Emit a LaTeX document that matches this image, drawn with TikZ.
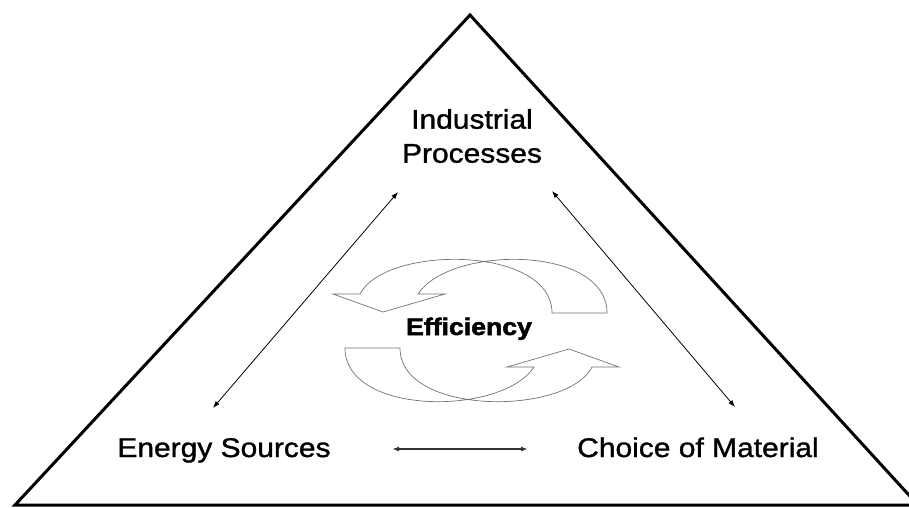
\documentclass[tikz,border=0pt]{standalone}
\usepackage{fontspec}
\setmainfont{Liberation Sans}[FakeStretch=1.11]
\newfontfamily\labelfont{Liberation Sans}[FakeStretch=1.11, FakeBold=1.2]
\newfontfamily\efffont{Liberation Sans Bold}[FakeStretch=1.11, FakeBold=2]
\usepackage{tikz}
\usetikzlibrary{arrows.meta}

\tikzset{
    label/.style={font=\labelfont\fontsize{27}{34}\selectfont, align=center, inner sep=2pt},
    link/.style={thick, {Latex[length=7pt, width=5pt]}-{Latex[length=7pt, width=5pt]}},
    cycle/.style={draw=black!55, line width=0.7pt, fill=white, line join=miter}
}

\begin{document}
\begin{tikzpicture}[x=1pt, y=-1pt]
            \useasboundingbox (0,0) rectangle (909,507);

            % outer triangle
            \draw[line width=3pt, line join=miter] (15,505) -- (470,15) -- (918,505) -- cycle;

            \node[label] (ip) at (472,136) {Industrial\\Processes};
            \node[label, anchor=base] (es) at (224,457) {Energy Sources};
            \node[label, anchor=base] (cm) at (698,457) {Choice of Material};

            % free ends of the links
            \coordinate (es-top) at (213,408);
            \coordinate (ip-left) at (398,192);
            \coordinate (ip-right) at (552,191);
            \coordinate (cm-top) at (735,407);
            \coordinate (es-right) at (392,449);
            \coordinate (cm-left) at (528,449);

            \draw[link] (es-top) -- (ip-left);
            \draw[link] (ip-right) -- (cm-top);
            \draw[link, line width=2pt, black!80] (es-right) -- (cm-left);

            % cycle arrows
            \draw[cycle] (552,313) -- (607,313) .. controls (607,245) and (450,245) .. (418,294)
                -- (445,294) -- (383,312) -- (333,294) -- (360,294)
                .. controls (385,245) and (552,245) .. (552,313) -- cycle;
            \begin{scope}[rotate around={180:(476,330.5)}]
                \draw[cycle] (552,313) -- (607,313) .. controls (607,245) and (450,245) .. (418,294)
                    -- (445,294) -- (383,312) -- (333,294) -- (360,294)
                    .. controls (385,245) and (552,245) .. (552,313) -- cycle;
            \end{scope}

            \node[font=\efffont\fontsize{24}{28}\selectfont, anchor=base] (eff) at (469,335) {Efficiency};
        \end{tikzpicture}
\end{document}
